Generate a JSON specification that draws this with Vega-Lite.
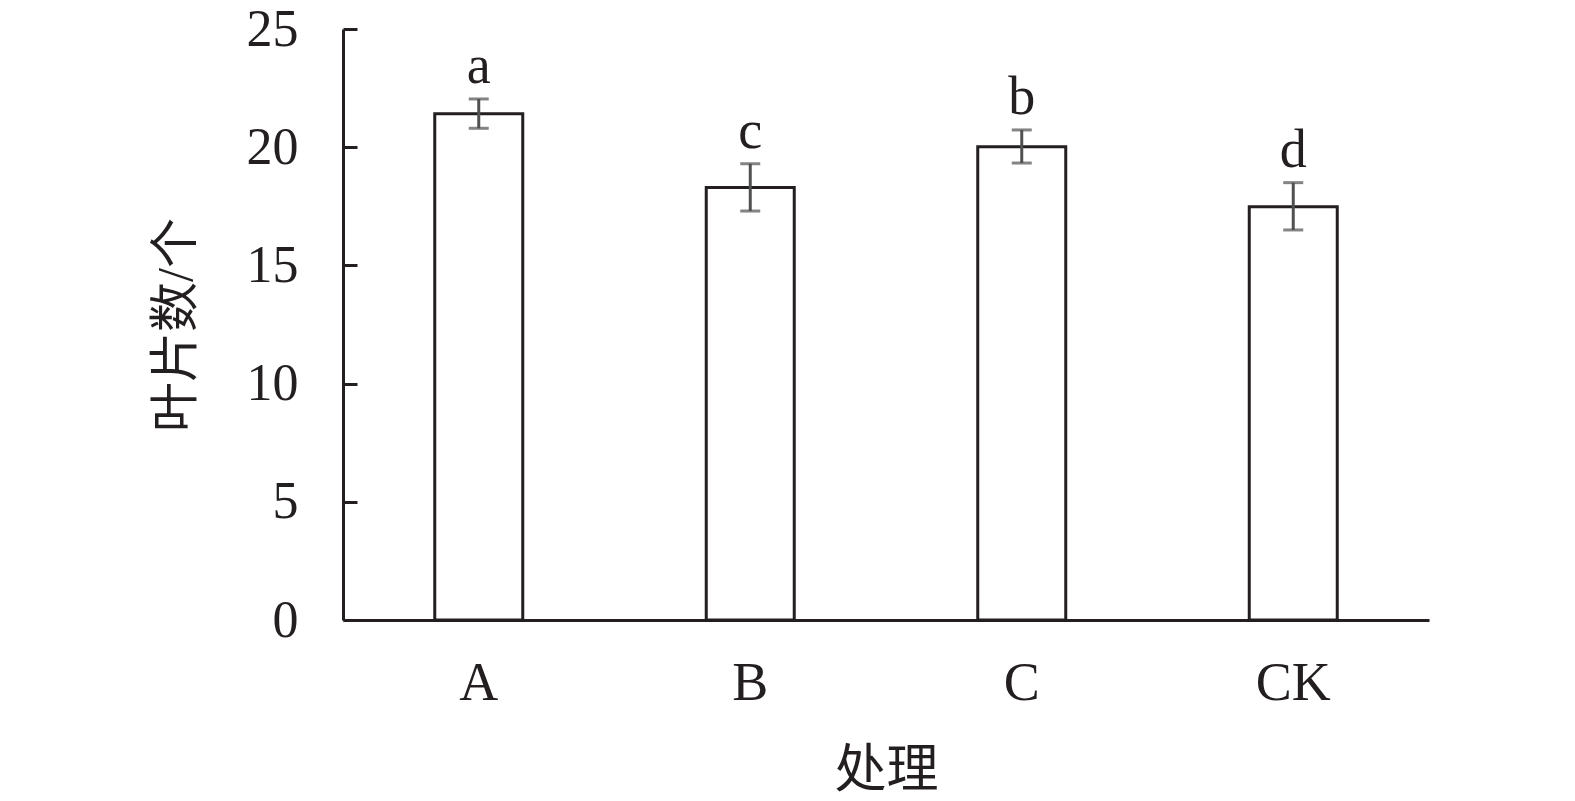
{
  "$schema": "https://vega.github.io/schema/vega-lite/v6.json",
  "autosize": {"type": "none"},
  "width": 1086,
  "height": 591,
  "padding": {"left": 343, "top": 29, "right": 146, "bottom": 181},
  "background": "white",
  "data": {
    "values": [
      {"group": "A", "mean": 21.42, "lo": 20.8, "hi": 22.04, "sig": "a"},
      {"group": "B", "mean": 18.3, "lo": 17.3, "hi": 19.3, "sig": "c"},
      {"group": "C", "mean": 20.02, "lo": 19.33, "hi": 20.73, "sig": "b"},
      {"group": "CK", "mean": 17.48, "lo": 16.5, "hi": 18.5, "sig": "d"}
    ]
  },
  "config": {
    "view": {"stroke": null},
    "axis": {
      "labelFont": "Liberation Serif",
      "titleFont": "Liberation Serif, Noto Sans CJK SC",
      "labelColor": "#231f20",
      "titleColor": "#231f20",
      "domainColor": "#231f20",
      "tickColor": "#231f20",
      "domainWidth": 3,
      "tickWidth": 3,
      "grid": false,
      "titleFontWeight": "normal"
    }
  },
  "encoding": {
    "x": {
      "field": "group",
      "type": "nominal",
      "sort": ["A", "B", "C", "CK"],
      "scale": {"paddingInner": 0, "paddingOuter": 0},
      "axis": {
        "title": "处理",
        "labelAngle": 0,
        "ticks": false,
        "labelFontSize": 54,
        "labelPadding": 36,
        "titleFontSize": 52,
        "titlePadding": 35
      }
    }
  },
  "layer": [
    {
      "mark": {"type": "bar", "width": 88, "fill": "white", "stroke": "#231f20", "strokeWidth": 3},
      "encoding": {
        "y": {
          "field": "mean",
          "type": "quantitative",
          "scale": {"domain": [0, 25], "nice": false},
          "axis": {
            "title": "叶片数/个",
            "values": [0, 5, 10, 15, 20, 25],
            "tickSize": -14,
            "labelFontSize": 52,
            "labelPadding": 59,
            "titleFontSize": 50,
            "titlePadding": 45
          }
        }
      }
    },
    {
      "mark": {"type": "rule", "color": "#505050", "strokeWidth": 3},
      "encoding": {
        "y": {"field": "lo", "type": "quantitative"},
        "y2": {"field": "hi"}
      }
    },
    {
      "mark": {"type": "tick", "color": "#505050", "thickness": 3, "size": 20, "orient": "horizontal"},
      "encoding": {"y": {"field": "lo", "type": "quantitative"}}
    },
    {
      "mark": {"type": "tick", "color": "#505050", "thickness": 3, "size": 20, "orient": "horizontal"},
      "encoding": {"y": {"field": "hi", "type": "quantitative"}}
    },
    {
      "mark": {"type": "text", "font": "Liberation Serif", "fontSize": 54, "baseline": "alphabetic", "dy": -16, "color": "#231f20"},
      "encoding": {
        "y": {"field": "hi", "type": "quantitative"},
        "text": {"field": "sig"}
      }
    }
  ]
}
